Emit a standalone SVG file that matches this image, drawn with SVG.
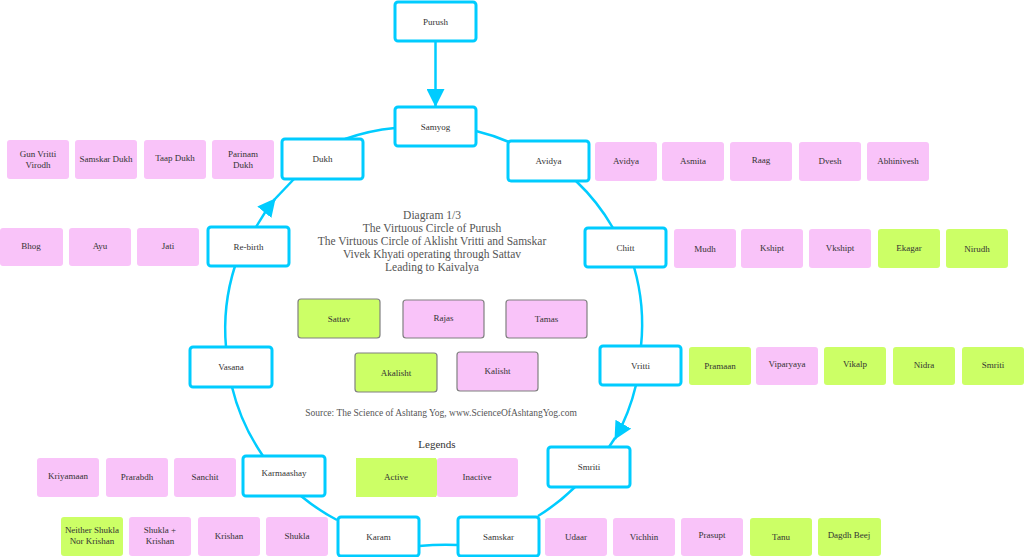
<svg xmlns="http://www.w3.org/2000/svg" width="1024" height="557" viewBox="0 0 1024 557">
<style>
.n rect{fill:#fff;stroke:#00CCFF;stroke-width:3}
.p{fill:#F9C3F9}
.g{fill:#CCFF66}
.c{stroke:#808080;stroke-width:1.2}
text{font-family:"Liberation Serif",serif;font-size:9px;fill:#333;text-anchor:middle}
.t{font-size:11.5px;fill:#555}
.s{font-size:9.5px;fill:#555}
.l{font-size:11px;fill:#333}
.e path{fill:none;stroke:#00CCFF;stroke-width:2.5}
</style>
<defs>
<marker id="ah" viewBox="0 0 18 18" refX="17" refY="9" markerWidth="18" markerHeight="18" markerUnits="userSpaceOnUse" orient="auto">
<path d="M0,0 L18,9 L0,18 z" fill="#00CCFF"/>
</marker>
</defs>
<rect width="1024" height="557" fill="#fff"/>
<g id="connectors" class="e">
<path d="M435.5,41 L435.5,106" marker-end="url(#ah)"/>
<path d="M476,131 A206,206 0 0 1 509,142"/>
<path d="M576,181 A206,206 0 0 1 613,228"/>
<path d="M634,267 A206,206 0 0 1 641,346"/>
<path d="M636,385 A206,206 0 0 1 615,439" marker-end="url(#ah)"/>
<path d="M615,438 L609,447"/>
<path d="M575,487 A206,206 0 0 1 538,516"/>
<path d="M458,545 Q440,544 419,546"/>
<path d="M337,520 A206,206 0 0 1 301,496"/>
<path d="M263,456 A206,206 0 0 1 232,387"/>
<path d="M226,347 A206,206 0 0 1 235,266"/>
<path d="M256,227 A206,206 0 0 1 275,199" marker-end="url(#ah)"/>
<path d="M274,200 L294,179"/>
<path d="M345,139 A206,206 0 0 1 395,128"/>
</g>
<g id="purush" class="n"><rect x="395" y="2" width="81" height="39" rx="3"/><text x="435.5" y="24.5">Purush</text></g>
<g id="samyog" class="n"><rect x="395" y="107" width="81" height="39" rx="3"/><text x="435.5" y="129.5">Samyog</text></g>
<g id="avidya" class="n"><rect x="508" y="141" width="81" height="40" rx="3"/><text x="548.5" y="164">Avidya</text></g>
<g id="chitt" class="n"><rect x="585" y="228" width="81" height="39" rx="3"/><text x="625.5" y="250.5">Chitt</text></g>
<g id="vritti" class="n"><rect x="600" y="346" width="81" height="39" rx="3"/><text x="640.5" y="368.5">Vritti</text></g>
<g id="smriti" class="n"><rect x="548" y="447" width="82" height="40" rx="3"/><text x="589" y="470">Smriti</text></g>
<g id="samskar" class="n"><rect x="458" y="517" width="81" height="39" rx="3"/><text x="498.5" y="539.5">Samskar</text></g>
<g id="karam" class="n"><rect x="338" y="517" width="81" height="39" rx="3"/><text x="378.5" y="539.5">Karam</text></g>
<g id="karmaashay" class="n"><rect x="243" y="456" width="82" height="40" rx="3"/><text x="284" y="476">Karmaashay</text></g>
<g id="vasana" class="n"><rect x="190" y="347" width="82" height="40" rx="3"/><text x="231" y="370">Vasana</text></g>
<g id="rebirth" class="n"><rect x="208" y="227" width="81" height="39" rx="3"/><text x="248.5" y="249.5">Re-birth</text></g>
<g id="dukh" class="n"><rect x="282" y="139" width="81" height="40" rx="3"/><text x="322.5" y="162">Dukh</text></g>

<g id="dukh-items">
<rect class="p" x="7" y="140" width="62" height="39" rx="3"/><text x="38" y="157">Gun Vritti</text><text x="38" y="168">Virodh</text>
<rect class="p" x="75" y="140" width="62" height="39" rx="3"/><text x="106" y="162">Samskar Dukh</text>
<rect class="p" x="144" y="140" width="62" height="39" rx="3"/><text x="175" y="161">Taap Dukh</text>
<rect class="p" x="212" y="140" width="62" height="39" rx="3"/><text x="243" y="157">Parinam</text><text x="243" y="168">Dukh</text>
</g>
<g id="rebirth-items">
<rect class="p" x="0" y="228" width="63" height="38" rx="3"/><text x="31" y="249">Bhog</text>
<rect class="p" x="69" y="228" width="62" height="38" rx="3"/><text x="100" y="249">Ayu</text>
<rect class="p" x="137" y="228" width="62" height="38" rx="3"/><text x="168" y="249">Jati</text>
</g>
<g id="avidya-items">
<rect class="p" x="595" y="142" width="62" height="39" rx="3"/><text x="626" y="164">Avidya</text>
<rect class="p" x="662" y="142" width="62" height="39" rx="3"/><text x="693" y="164">Asmita</text>
<rect class="p" x="730" y="142" width="62" height="39" rx="3"/><text x="761" y="163">Raag</text>
<rect class="p" x="799" y="142" width="62" height="39" rx="3"/><text x="830" y="164">Dvesh</text>
<rect class="p" x="867" y="142" width="62" height="39" rx="3"/><text x="898" y="164">Abhinivesh</text>
</g>
<g id="chitt-items">
<rect class="p" x="674" y="229" width="62" height="39" rx="3"/><text x="705" y="252">Mudh</text>
<rect class="p" x="741" y="229" width="62" height="39" rx="3"/><text x="772" y="251">Kshipt</text>
<rect class="p" x="809" y="229" width="62" height="39" rx="3"/><text x="840" y="251">Vkshipt</text>
<rect class="g" x="878" y="229" width="62" height="39" rx="3"/><text x="909" y="251">Ekagar</text>
<rect class="g" x="946" y="229" width="62" height="39" rx="3"/><text x="977" y="252">Nirudh</text>
</g>
<g id="vritti-items">
<rect class="g" x="689" y="347" width="62" height="38" rx="3"/><text x="720" y="369">Pramaan</text>
<rect class="p" x="756" y="347" width="62" height="38" rx="3"/><text x="787" y="367">Viparyaya</text>
<rect class="g" x="824" y="347" width="62" height="38" rx="3"/><text x="855" y="367">Vikalp</text>
<rect class="g" x="893" y="347" width="62" height="38" rx="3"/><text x="924" y="368">Nidra</text>
<rect class="g" x="962" y="347" width="62" height="38" rx="3"/><text x="993" y="368">Smriti</text>
</g>
<g id="karmaashay-items">
<rect class="p" x="37" y="458" width="62" height="39" rx="3"/><text x="68" y="479">Kriyamaan</text>
<rect class="p" x="106" y="458" width="62" height="39" rx="3"/><text x="137" y="480">Prarabdh</text>
<rect class="p" x="174" y="458" width="62" height="39" rx="3"/><text x="205" y="480">Sanchit</text>
</g>
<g id="karam-items">
<rect class="g" x="61" y="517" width="62" height="39" rx="3"/><text x="92" y="533">Neither Shukla</text><text x="92" y="544">Nor Krishan</text>
<rect class="p" x="129" y="517" width="62" height="39" rx="3"/><text x="160" y="533">Shukla +</text><text x="160" y="544">Krishan</text>
<rect class="p" x="198" y="517" width="62" height="39" rx="3"/><text x="229" y="539">Krishan</text>
<rect class="p" x="266" y="517" width="62" height="39" rx="3"/><text x="297" y="539">Shukla</text>
</g>
<g id="smriti-items">
<rect class="p" x="545" y="518" width="62" height="38" rx="3"/><text x="576" y="540">Udaar</text>
<rect class="p" x="613" y="518" width="62" height="38" rx="3"/><text x="644" y="540">Vichhin</text>
<rect class="p" x="681" y="518" width="62" height="38" rx="3"/><text x="712" y="538">Prasupt</text>
<rect class="g" x="750" y="518" width="62" height="38" rx="3"/><text x="781" y="540">Tanu</text>
<rect class="g" x="818" y="518" width="63" height="38" rx="3"/><text x="849" y="538">Dagdh Beej</text>
</g>

<g id="title">
<text class="t" x="432" y="219">Diagram 1/3</text>
<text class="t" x="432" y="232">The Virtuous Circle of Purush</text>
<text class="t" x="432" y="245">The Virtuous Circle of Aklisht Vritti and Samskar</text>
<text class="t" x="432" y="258">Vivek Khyati operating through Sattav</text>
<text class="t" x="432" y="271">Leading to Kaivalya</text>
</g>
<g id="gunas">
<rect class="g c" x="298" y="299" width="82" height="39" rx="3"/><text x="339" y="322">Sattav</text>
<rect class="p c" x="403" y="300" width="81" height="38" rx="3"/><text x="443.5" y="321">Rajas</text>
<rect class="p c" x="506" y="300" width="81" height="38" rx="3"/><text x="546.5" y="322">Tamas</text>
<rect class="g c" x="355" y="353" width="82" height="39" rx="3"/><text x="396" y="376">Akalisht</text>
<rect class="p c" x="457" y="352" width="81" height="39" rx="3"/><text x="497.5" y="374">Kalisht</text>
</g>
<text class="s" x="441" y="416">Source: The Science of Ashtang Yog, www.ScienceOfAshtangYog.com</text>
<g id="legend">
<text class="l" x="437" y="448">Legends</text>
<rect class="g" x="356" y="458" width="81" height="39" rx="3"/>
<rect class="p" x="437" y="458" width="81" height="39" rx="3"/>
<rect class="g" x="356" y="458" width="80" height="39"/>
<text x="396" y="480">Active</text>
<text x="477" y="480">Inactive</text>
</g>
</svg>
